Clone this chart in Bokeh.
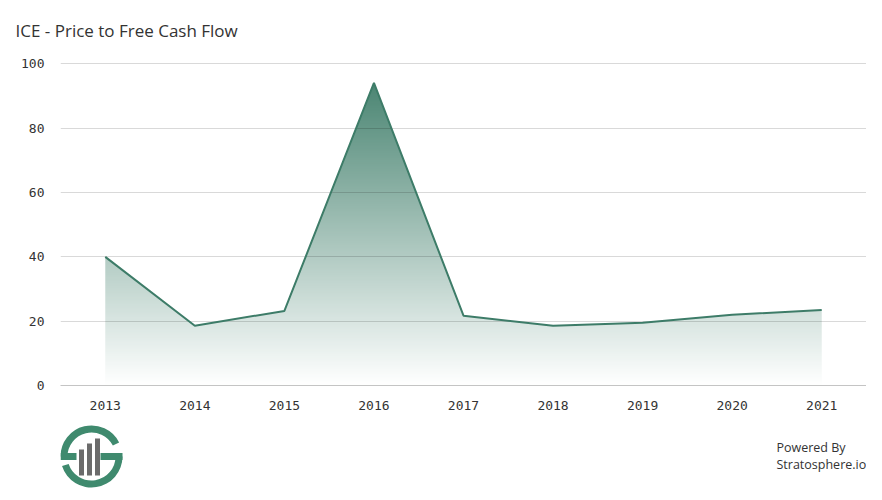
import numpy as np
from bokeh.plotting import figure
from bokeh.models import Range1d, FixedTicker
from bokeh.layouts import column
from bokeh.embed import file_html
from bokeh.resources import INLINE
from bokeh.core.properties import value

years = ["2013", "2014", "2015", "2016", "2017", "2018", "2019", "2020", "2021"]
pfcf = [40.0, 18.6, 23.2, 94.1, 21.7, 18.6, 19.5, 22.0, 23.5]
y_ticks = [0, 20, 40, 60, 80, 100]

xs = list(range(len(years)))
n = len(years)

p = figure(width=866, height=418, x_range=Range1d(-0.5, n - 0.5), y_range=Range1d(0, 102),
           output_backend="svg", toolbar_location=None,
           min_border_left=60, min_border_right=0, min_border_top=56, min_border_bottom=33,
           title="ICE - Price to Free Cash Flow")
p.outline_line_color = None
p.background_fill_color = "white"
p.border_fill_color = "white"
p.title.text_font = "Open Sans"
p.title.text_font_size = "17px"
p.title.text_font_style = "normal"
p.title.text_color = "#333333"
p.title.align = "left"
p.title.offset = -45
p.title.standoff = 32

# gradient fill
N = 256
t = np.linspace(0, 1, N)
alpha = 0.93 * t
base = (61, 124, 104)
img = np.empty((N, 1), dtype=np.uint32)
view = img.view(dtype=np.uint8).reshape((N, 1, 4))
for i, c in enumerate(base):
    view[:, 0, i] = np.round(255 - alpha * (255 - c)).astype(np.uint8)
view[:, 0, 3] = 255
p.image_rgba(image=[img], x=0, y=0, dw=n - 1, dh=max(pfcf), level="image")
mask_x = [-1] + xs + [n]
mask_y = [pfcf[0]] + pfcf + [pfcf[-1]]
p.varea(x=mask_x, y1=mask_y, y2=[110] * len(mask_x), fill_color="white", level="image")

p.line(xs, pfcf, line_color="#3d7c68", line_width=2)

p.xgrid.grid_line_color = None
p.ygrid.grid_line_color = "black"
p.ygrid.grid_line_alpha = 0.15
p.ygrid.ticker = FixedTicker(ticks=y_ticks)
p.xaxis.ticker = FixedTicker(ticks=xs)
p.xaxis.major_label_overrides = {i: y for i, y in enumerate(years)}
p.yaxis.ticker = FixedTicker(ticks=y_ticks)
for ax in (p.xaxis[0], p.yaxis[0]):
    ax.major_tick_line_color = None
    ax.minor_tick_line_color = None
    ax.major_label_text_font = "DejaVu Sans Mono"
    ax.major_label_text_font_size = "13px"
    ax.major_label_text_color = "#333333"
p.yaxis.axis_line_color = None
p.xaxis.axis_line_color = "#c4c4c4"
p.xaxis.major_label_standoff = 9
p.yaxis.major_label_standoff = 10

# footer (frame is aligned with the chart frame: x from 60 to 866 page px)
b = figure(width=866, height=74, x_range=Range1d(60, 866), y_range=Range1d(0, 74),
           output_backend="svg", toolbar_location=None, x_axis_type=None, y_axis_type=None,
           min_border_left=60, min_border_right=0, min_border_top=0, min_border_bottom=0)
b.outline_line_color = None
b.xgrid.grid_line_color = None
b.ygrid.grid_line_color = None

def Y(py):
    return 492 - py

green = "#3f8a6e"
gray = "#6b6b6b"
cx, cy = 91, 456
b.annular_wedge(x=cx, y=Y(cy), inner_radius=24, outer_radius=31, start_angle=np.deg2rad(27),
                end_angle=np.deg2rad(180), fill_color=green, line_color=None)
b.annular_wedge(x=cx, y=Y(cy), inner_radius=24, outer_radius=31, start_angle=np.deg2rad(198),
                end_angle=np.deg2rad(360), fill_color=green, line_color=None)
b.quad(left=60, right=76, top=Y(452.5), bottom=Y(459.5), fill_color=green, line_color=None)
b.quad(left=100, right=122, top=Y(452.5), bottom=Y(459.5), fill_color=green, line_color=None)
b.vbar(x=[81, 89, 97], width=5, bottom=Y(475), top=[Y(449), Y(443), Y(438)],
       fill_color=gray, line_color=None)
b.text(x=[776, 776], y=[Y(447), Y(464)], text=["Powered By", "Stratosphere.io"],
       text_font=value("Open Sans"), text_font_size="12.5px", text_color="#333333",
       text_baseline="middle")

layout = column(p, b, spacing=0)
open("out.html", "w").write(file_html(layout, INLINE))
